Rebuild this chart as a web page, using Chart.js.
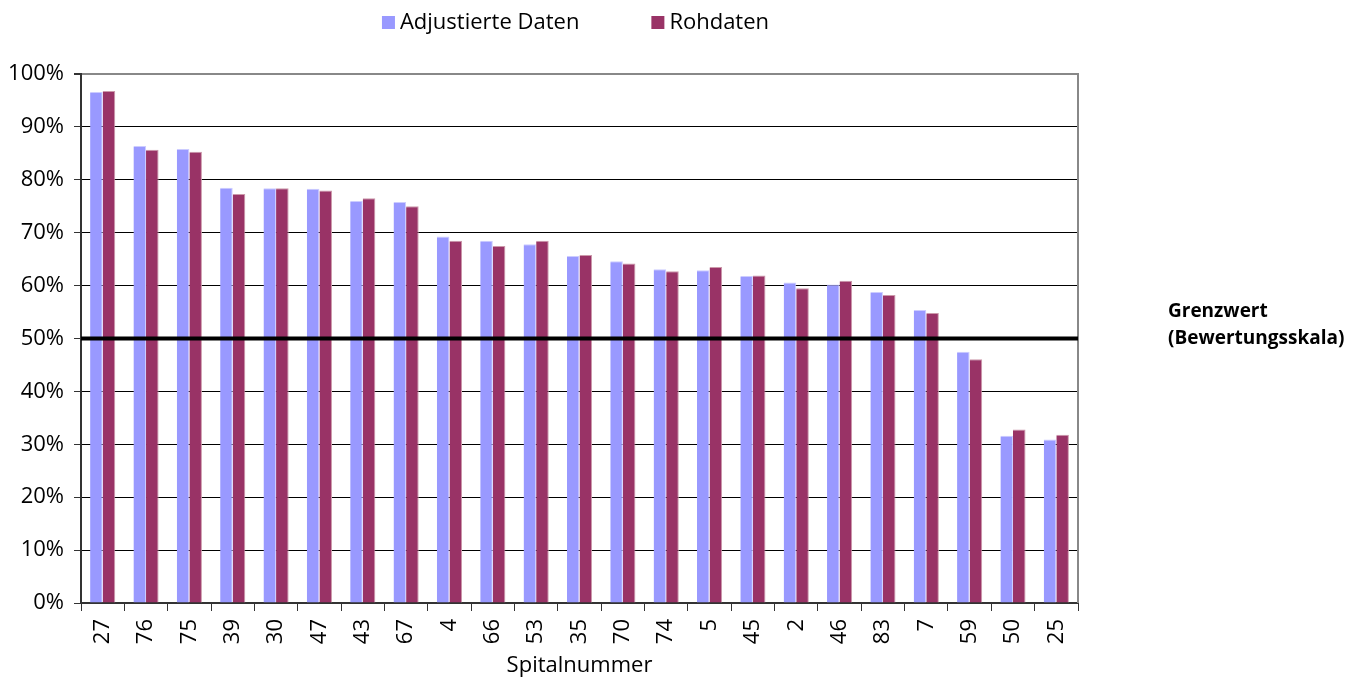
<!DOCTYPE html>
<html>
<head>
<meta charset="utf-8">
<script src="https://cdn.jsdelivr.net/npm/chart.js@4/dist/chart.umd.min.js"></script>
<style>
  html, body { margin: 0; padding: 0; background: #fff; }
  #wrap { width: 1368px; height: 679px; }
</style>
</head>
<body>
<div id="wrap"><canvas id="chart"></canvas></div>
<script>
// Werte (in %)
const categories = ['27', '76', '75', '39', '30', '47', '43', '67', '4', '66', '53', '35',
                    '70', '74', '5', '45', '2', '46', '83', '7', '59', '50', '25'];
const adjustedValues = [96.6, 86.4, 85.8, 78.5, 78.4, 78.3, 76.0, 75.8, 69.3, 68.5, 67.8, 65.6,
                        64.6, 63.1, 62.9, 61.8, 60.6, 60.2, 58.8, 55.4, 47.5, 31.6, 30.9];
const rawValues = [96.8, 85.7, 85.3, 77.3, 78.4, 78.0, 76.5, 75.0, 68.5, 67.5, 68.5, 65.8,
                   64.2, 62.7, 63.5, 61.9, 59.5, 60.9, 58.2, 54.8, 46.1, 32.8, 31.8];
const seriesNames = ['Adjustierte Daten', 'Rohdaten'];
const thresholdValue = 50;
const thresholdLabel = ['Grenzwert', '(Bewertungsskala)'];
const xTitle = 'Spitalnummer';

const FONT = "'Open Sans', sans-serif";
const colors = ['#9999FF', '#993366'];

// Grenzlinie, rechter Rahmen, Legende und Beschriftung
const extras = {
  id: 'extras',
  afterDatasetsDraw(chart) {
    const { ctx, chartArea: a, scales } = chart;
    const y = scales.y.getPixelForValue(thresholdValue);
    ctx.save();
    // rechter Rahmen
    ctx.strokeStyle = '#888';
    ctx.lineWidth = 2;
    ctx.beginPath();
    ctx.moveTo(a.right, a.top - 1);
    ctx.lineTo(a.right, a.bottom);
    ctx.stroke();
    // Grenzwert-Linie
    ctx.strokeStyle = '#000';
    ctx.lineWidth = 4;
    ctx.beginPath();
    ctx.moveTo(a.left, y);
    ctx.lineTo(a.right, y);
    ctx.stroke();
    // Beschriftung Grenzwert
    ctx.fillStyle = '#000';
    ctx.font = "bold 19px " + FONT;
    ctx.textBaseline = 'middle';
    ctx.textAlign = 'left';
    ctx.fillText(thresholdLabel[0], a.right + 90, y - 27);
    ctx.fillText(thresholdLabel[1], a.right + 90, y);
    // Legende
    ctx.font = "22px " + FONT;
    const box = 13, gapText = 5, gapItems = 72;
    const w = seriesNames.map(n => box + gapText + ctx.measureText(n).width);
    const total = w[0] + gapItems + w[1];
    let x = (a.left + a.right) / 2 - 4 - total / 2;
    const ly = 23;
    seriesNames.forEach((n, i) => {
      ctx.fillStyle = colors[i];
      ctx.fillRect(x, ly - 7, box, box);
      ctx.fillStyle = '#000';
      ctx.fillText(n, x + box + gapText, ly);
      x += w[i] + gapItems;
    });
    ctx.restore();
  }
};

new Chart(document.getElementById('chart'), {
  type: 'bar',
  data: {
    labels: categories,
    datasets: [
      { label: seriesNames[0], data: adjustedValues, backgroundColor: colors[0],
        borderColor: '#CCCCFF', borderWidth: { top: 1, left: 0, right: 1, bottom: 0 } },
      { label: seriesNames[1], data: rawValues, backgroundColor: colors[1],
        borderColor: '#CC99AA', borderWidth: { top: 1, left: 0, right: 1, bottom: 0 } }
    ]
  },
  options: {
    responsive: true,
    maintainAspectRatio: false,
    animation: false,
    layout: { padding: { top: 74, right: 290, left: 0, bottom: 0 } },
    datasets: { bar: { categoryPercentage: 0.58, barPercentage: 1 } },
    plugins: {
      legend: { display: false },
      tooltip: { enabled: false }
    },
    scales: {
      y: {
        min: 0,
        max: 100,
        afterFit(s) { s.width = 81; },
        ticks: {
          stepSize: 10,
          color: '#000',
          padding: 10,
          font: { family: FONT, size: 22 },
          callback: v => v + '%'
        },
        grid: {
          color: c => (c.tick && c.tick.value === 100) ? '#888' : '#000',
          lineWidth: c => (c.tick && c.tick.value === 100) ? 2 : 1,
          tickColor: '#333',
          tickLength: 7
        },
        border: { color: '#333', width: 2 }
      },
      x: {
        afterFit(s) { s.height = 76; },
        ticks: {
          color: '#000',
          minRotation: 90,
          maxRotation: 90,
          autoSkip: false,
          padding: 8,
          font: { family: FONT, size: 22 }
        },
        grid: {
          drawOnChartArea: false,
          drawTicks: true,
          tickColor: '#333',
          tickLength: 8
        },
        border: { color: '#333', width: 2 },
        title: {
          display: true,
          text: xTitle,
          color: '#000',
          font: { family: FONT, size: 22 },
          padding: { top: 0, bottom: 0 }
        }
      }
    }
  },
  plugins: [extras]
});
</script>
</body>
</html>
